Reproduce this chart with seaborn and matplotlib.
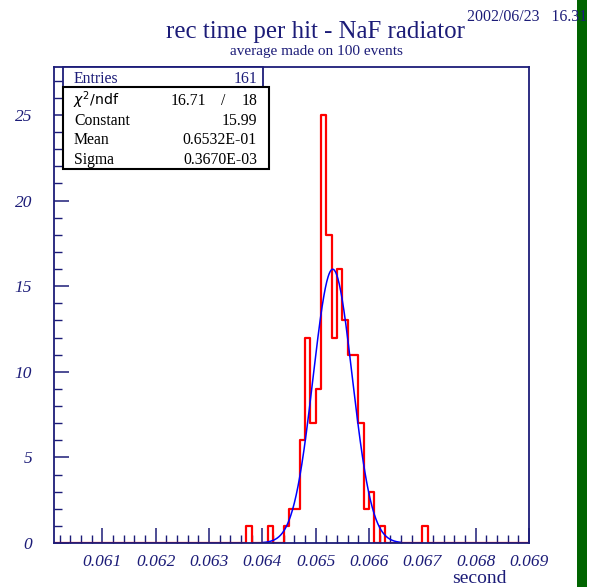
import numpy as np
import pandas as pd
import matplotlib
matplotlib.use("Agg")
import matplotlib.pyplot as plt
from matplotlib.ticker import MultipleLocator, FuncFormatter
from matplotlib.patches import Rectangle
import seaborn as sns

# ---- data ----
bin_low = [0.0637, 0.0641, 0.0644, 0.0645, 0.0646, 0.0647, 0.0648, 0.0649,
           0.0650, 0.0651, 0.0652, 0.0653, 0.0654, 0.0655, 0.0656, 0.0657,
           0.0658, 0.0659, 0.0660, 0.0662, 0.0670]
counts = [1, 1, 1, 2, 2, 6, 12, 7, 9, 25, 18, 12, 16, 13, 11, 11, 7, 2, 3, 1, 1]
bin_width = 0.0001
x_min, x_max = 0.0601, 0.0690
fit_constant = 15.99
fit_mean = 0.06532
fit_sigma = 0.3670e-03
fit_range = (0.0640, 0.0666)
x_ticks = [0.061, 0.062, 0.063, 0.064, 0.065, 0.066, 0.067, 0.068, 0.069]
y_ticks = [0, 5, 10, 15, 20, 25]
stats_rows = [("Constant", "15.99"), ("Mean", "0.6532E-01"), ("Sigma", "0.3670E-03")]

NAVY = "#1c1c78"
W, H = 592, 587

sns.set_style("ticks")
plt.rcParams["font.family"] = ["Liberation Serif", "DejaVu Serif"]

fig = plt.figure(figsize=(W / 100, H / 100), dpi=100)
fig.patch.set_facecolor("white")

def fx(x):
    return x / W

def fy(y):
    return 1 - y / H

ax_l, ax_r, ax_t, ax_b = 54.3, 529.0, 66.5, 543.0
ax = fig.add_axes([fx(ax_l), fy(ax_b), (ax_r - ax_l) / W, (ax_b - ax_t) / H])

centers = [b + bin_width / 2 for b in bin_low]
df = pd.DataFrame({"t": centers, "n": counts})
sns.histplot(data=df, x="t", weights="n", binwidth=bin_width,
             binrange=(x_min, x_max), element="step",
             fill=False, color="red", linewidth=1.6, ax=ax)

xf = np.linspace(fit_range[0], fit_range[1], 300)
yf = fit_constant * np.exp(-0.5 * ((xf - fit_mean) / fit_sigma) ** 2)
sns.lineplot(x=xf, y=yf, color="blue", linewidth=1.1, ax=ax)

ax.set_xlim(x_min, x_max)
ax.set_ylim(0, 27.83)
ax.set_xlabel("")
ax.set_ylabel("")
ax.set_facecolor("white")
for s in ax.spines.values():
    s.set_color(NAVY)
    s.set_linewidth(1.3)

ax.set_xticks(x_ticks)
ax.xaxis.set_minor_locator(MultipleLocator(0.0002))
ax.set_yticks(y_ticks)
ax.yaxis.set_minor_locator(MultipleLocator(1))
ax.xaxis.set_major_formatter(FuncFormatter(lambda v, p: f"{v:.3f}"))
ax.yaxis.set_major_formatter(FuncFormatter(lambda v, p: f"{int(round(v))}"))
ax.tick_params(which="major", direction="in", length=11, width=1.1, color=NAVY,
               labelcolor=NAVY, labelsize=12.5)
ax.tick_params(which="minor", direction="in", length=5.5, width=1.0, color=NAVY)
ax.tick_params(axis="x", which="major", pad=8)
ax.tick_params(axis="y", which="major", pad=16)
for lab in ax.get_xticklabels() + ax.get_yticklabels():
    lab.set_fontstyle("italic")

# titles
fig.text(fx(316), fy(38.3), "rec time per hit - NaF radiator", ha="center",
         va="baseline", color=NAVY, fontsize=17.9)
fig.text(fx(316), fy(55), "average made on 100 events", ha="center",
         va="baseline", color=NAVY, fontsize=11)
fig.text(fx(467), fy(21), "2002/06/23   16.31", ha="left", va="baseline",
         color=NAVY, fontsize=11.4, zorder=12)
fig.text(fx(479), fy(583), "second", ha="center", va="baseline", color=NAVY,
         fontsize=14)

# stats box
fig.patches.append(Rectangle((fx(62.5), fy(87)), (263 - 62.5) / W, 20.5 / H,
                             transform=fig.transFigure, fill=True,
                             facecolor="white", edgecolor=NAVY, lw=1.3, zorder=5))
fig.patches.append(Rectangle((fx(62.5), fy(169.3)), (269 - 62.5) / W, (169.3 - 87) / H,
                             transform=fig.transFigure, fill=True,
                             facecolor="white", edgecolor="black", lw=1.5, zorder=5))
FS = 11.3
fig.text(fx(74), fy(83), "Entries", ha="left", va="baseline", color=NAVY,
         fontsize=FS, zorder=6)
fig.text(fx(257), fy(83), "161", ha="right", va="baseline", color=NAVY,
         fontsize=FS, zorder=6)
fig.text(fx(73), fy(105), r"$\chi^2$/ndf", ha="left", va="baseline", color="black",
         fontsize=10.2, zorder=6, family=["DejaVu Sans"])
fig.text(fx(206), fy(105), "16.71", ha="right", va="baseline", color="black",
         fontsize=FS, zorder=6)
fig.text(fx(223), fy(105), "/", ha="center", va="baseline", color="black",
         fontsize=FS, zorder=6)
fig.text(fx(257), fy(105), "18", ha="right", va="baseline", color="black",
         fontsize=FS, zorder=6)
for i, (name, val) in enumerate(stats_rows):
    yy = 124.7 + i * 19.7
    fig.text(fx(74), fy(yy), name, ha="left", va="baseline", color="black",
             fontsize=FS, zorder=6)
    fig.text(fx(257), fy(yy), val, ha="right", va="baseline", color="black",
             fontsize=FS, zorder=6)

# green bar at right edge
fig.patches.append(Rectangle((fx(577.3), 0), 10.2 / W, 1,
                             transform=fig.transFigure, facecolor="#006400",
                             edgecolor="none", zorder=10))

fig.savefig("out.png", dpi=100, facecolor="white")
